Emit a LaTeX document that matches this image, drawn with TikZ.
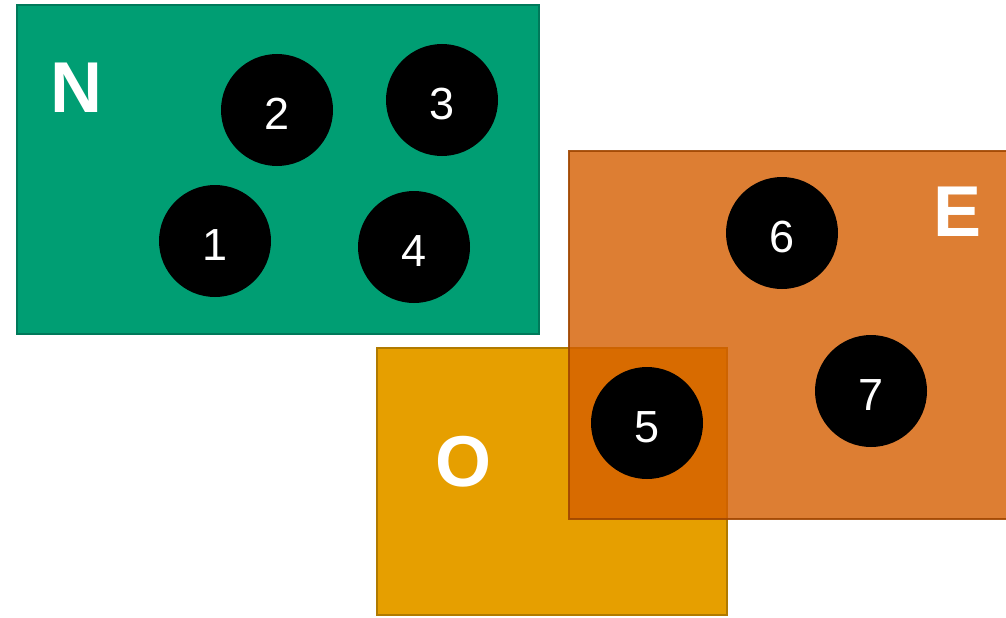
\documentclass[tikz,border=0pt]{standalone}
\usepackage{fontspec}
\setmainfont{Liberation Sans}
\begin{document}
\begin{tikzpicture}[x=1pt,y=-1pt,
  region/.style={line width=1.5pt},
  dot/.style={circle,fill=black,minimum size=112pt,inner sep=0pt,text=white,
    text height=38pt,text depth=0pt,font=\fontsize{45}{45}\selectfont},
  tag/.style={text=white,font=\fontsize{72}{72}\selectfont\bfseries,inner sep=0pt}]
\definecolor{nfill}{HTML}{009E73}\definecolor{ndraw}{HTML}{00795A}
\definecolor{efill}{HTML}{D55E00}\definecolor{edraw}{HTML}{A04600}
\definecolor{ofill}{HTML}{E69F00}\definecolor{odraw}{HTML}{B07A00}
\useasboundingbox (0,0) rectangle (1006,618);
% regions
\fill[nfill] (17,5) rectangle (539,334);
\draw[region,ndraw] (17,5) rectangle (539,334);
\fill[ofill] (377,348) rectangle (727,615);
\draw[region,odraw] (377,348) rectangle (727,615);
\fill[efill,opacity=0.8] (569,151) rectangle (1007,519);
\draw[region,edraw,opacity=0.9] (569,151) rectangle (1007,519);
% region labels
\node[tag] (N) at (76,88) {N};
\node[tag] (E) at (957,212) {E};
\node[tag] (O) at (463,462) {O};
% members
\node[dot] (c1) at (215,241) {1};
\node[dot] (c2) at (277,110) {2};
\node[dot] (c3) at (442,100) {3};
\node[dot] (c4) at (414,247) {4};
\node[dot] (c5) at (647,423) {5};
\node[dot] (c6) at (782,233) {6};
\node[dot] (c7) at (871,391) {7};
\end{tikzpicture}
\end{document}
